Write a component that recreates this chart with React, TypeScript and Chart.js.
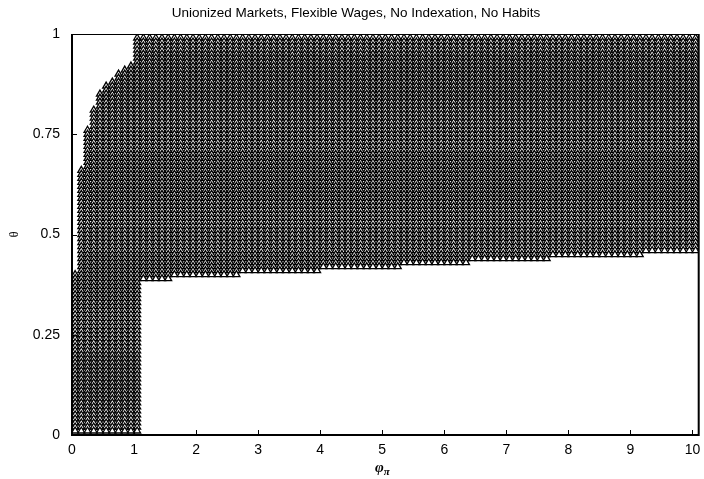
import React, { useEffect, useRef } from "react";
import { Chart, registerables } from "chart.js";

Chart.register(...registerables);

const TITLE = "Unionized Markets, Flexible Wages, No Indexation, No Habits";
const X_LABEL_MAIN = "φ";
const X_LABEL_SUB = "π";
const Y_LABEL = "θ";

const X_TICKS = [0, 1, 2, 3, 4, 5, 6, 7, 8, 9, 10];
const Y_TICKS = [0, 0.25, 0.5, 0.75, 1];

// Grid of policy coefficients (phi_pi) that were checked
const PHI_PI = [
  0.05, 0.15, 0.25, 0.35, 0.45, 0.55, 0.65, 0.75, 0.85, 0.95,
  1.05, 1.15, 1.25, 1.35, 1.45, 1.55, 1.65, 1.75, 1.85, 1.95,
  2.05, 2.15, 2.25, 2.35, 2.45, 2.55, 2.65, 2.75, 2.85, 2.95,
  3.05, 3.15, 3.25, 3.35, 3.45, 3.55, 3.65, 3.75, 3.85, 3.95,
  4.05, 4.15, 4.25, 4.35, 4.45, 4.55, 4.65, 4.75, 4.85, 4.95,
  5.05, 5.15, 5.25, 5.35, 5.45, 5.55, 5.65, 5.75, 5.85, 5.95,
  6.05, 6.15, 6.25, 6.35, 6.45, 6.55, 6.65, 6.75, 6.85, 6.95,
  7.05, 7.15, 7.25, 7.35, 7.45, 7.55, 7.65, 7.75, 7.85, 7.95,
  8.05, 8.15, 8.25, 8.35, 8.45, 8.55, 8.65, 8.75, 8.85, 8.95,
  9.05, 9.15, 9.25, 9.35, 9.45, 9.55, 9.65, 9.75, 9.85, 9.95,
  10.05,
];

// Lowest determinate theta in each phi_pi column
const THETA_MIN = [
  0.01, 0.01, 0.01, 0.01, 0.01, 0.01, 0.01, 0.01, 0.01, 0.01,
  0.01, 0.39, 0.39, 0.39, 0.39, 0.39, 0.40, 0.40, 0.40, 0.40,
  0.40, 0.40, 0.40, 0.40, 0.40, 0.40, 0.40, 0.41, 0.41, 0.41,
  0.41, 0.41, 0.41, 0.41, 0.41, 0.41, 0.41, 0.41, 0.41, 0.41,
  0.42, 0.42, 0.42, 0.42, 0.42, 0.42, 0.42, 0.42, 0.42, 0.42,
  0.42, 0.42, 0.42, 0.43, 0.43, 0.43, 0.43, 0.43, 0.43, 0.43,
  0.43, 0.43, 0.43, 0.43, 0.44, 0.44, 0.44, 0.44, 0.44, 0.44,
  0.44, 0.44, 0.44, 0.44, 0.44, 0.44, 0.44, 0.45, 0.45, 0.45,
  0.45, 0.45, 0.45, 0.45, 0.45, 0.45, 0.45, 0.45, 0.45, 0.45,
  0.45, 0.45, 0.46, 0.46, 0.46, 0.46, 0.46, 0.46, 0.46, 0.46,
  0.46,
];

// Highest determinate theta in each phi_pi column
const THETA_MAX = [
  0.40, 0.66, 0.76, 0.81, 0.85, 0.87, 0.88, 0.90, 0.91, 0.92,
  0.99, 0.99, 0.99, 0.99, 0.99, 0.99, 0.99, 0.99, 0.99, 0.99,
  0.99, 0.99, 0.99, 0.99, 0.99, 0.99, 0.99, 0.99, 0.99, 0.99,
  0.99, 0.99, 0.99, 0.99, 0.99, 0.99, 0.99, 0.99, 0.99, 0.99,
  0.99, 0.99, 0.99, 0.99, 0.99, 0.99, 0.99, 0.99, 0.99, 0.99,
  0.99, 0.99, 0.99, 0.99, 0.99, 0.99, 0.99, 0.99, 0.99, 0.99,
  0.99, 0.99, 0.99, 0.99, 0.99, 0.99, 0.99, 0.99, 0.99, 0.99,
  0.99, 0.99, 0.99, 0.99, 0.99, 0.99, 0.99, 0.99, 0.99, 0.99,
  0.99, 0.99, 0.99, 0.99, 0.99, 0.99, 0.99, 0.99, 0.99, 0.99,
  0.99, 0.99, 0.99, 0.99, 0.99, 0.99, 0.99, 0.99, 0.99, 0.99,
  0.99,
];

const THETA_STEP = 0.01;

function buildPoints() {
  const pts: { x: number; y: number }[] = [];
  PHI_PI.forEach((x, k) => {
    const lo = Math.round(THETA_MIN[k] / THETA_STEP);
    const hi = Math.round(THETA_MAX[k] / THETA_STEP);
    for (let j = hi; j >= lo; j--) {
      pts.push({ x, y: Math.round(j * THETA_STEP * 100) / 100 });
    }
  });
  return pts;
}

const FONT = "'Liberation Sans', Arial, sans-serif";

const framePlugin = {
  id: "frame",
  afterDatasetsDraw(chart: any) {
    const { ctx, chartArea: a, scales } = chart;
    ctx.save();
    ctx.strokeStyle = "#000";
    ctx.lineWidth = 1;
    ctx.beginPath();
    X_TICKS.forEach((v) => {
      const px = Math.round(scales.x.getPixelForValue(v)) + 0.5;
      ctx.moveTo(px, a.bottom);
      ctx.lineTo(px, a.bottom - 5);
    });
    Y_TICKS.forEach((v) => {
      const py = Math.round(scales.y.getPixelForValue(v)) + 0.5;
      ctx.moveTo(a.left, py);
      ctx.lineTo(a.left + 5, py);
    });
    ctx.stroke();

    // box around the plot area
    ctx.lineWidth = 2;
    ctx.beginPath();
    ctx.moveTo(a.left, a.top);
    ctx.lineTo(a.left, a.bottom);
    ctx.lineTo(a.right, a.bottom);
    ctx.lineTo(a.right, a.top);
    ctx.stroke();
    ctx.lineWidth = 1;
    ctx.beginPath();
    ctx.moveTo(a.left, a.top + 0.5);
    ctx.lineTo(a.right, a.top + 0.5);
    ctx.stroke();

    ctx.fillStyle = "#000";

    // chart title
    ctx.font = `13.5px ${FONT}`;
    ctx.textAlign = "center";
    ctx.textBaseline = "middle";
    ctx.fillText(TITLE, 356, 13);

    // x-axis title: phi with subscript pi
    ctx.textAlign = "left";
    ctx.textBaseline = "alphabetic";
    const mainFont = "italic bold 15px 'Liberation Serif', 'DejaVu Serif', serif";
    const subFont = "italic bold 11px 'Liberation Serif', 'DejaVu Serif', serif";
    ctx.font = mainFont;
    const w1 = ctx.measureText(X_LABEL_MAIN).width;
    ctx.font = subFont;
    const w2 = ctx.measureText(X_LABEL_SUB).width;
    const cx = (a.left + a.right) / 2 - 3;
    const x0 = cx - (w1 + w2) / 2;
    ctx.font = mainFont;
    ctx.fillText(X_LABEL_MAIN, x0, 472);
    ctx.font = subFont;
    ctx.fillText(X_LABEL_SUB, x0 + w1, 475);
    ctx.restore();
  },
};

export default function App() {
  const canvasRef = useRef<HTMLCanvasElement | null>(null);

  useEffect(() => {
    const canvas = canvasRef.current;
    if (!canvas) return;
    const chart = new Chart(canvas, {
      type: "scatter",
      data: {
        datasets: [
          {
            data: buildPoints(),
            pointStyle: "triangle",
            pointRadius: 4,
            pointHoverRadius: 4,
            pointBorderWidth: 1.3,
            pointBorderColor: "#000",
            pointBackgroundColor: "#fff",
          },
        ],
      },
      options: {
        animation: false,
        responsive: false,
        events: [],
        layout: { padding: { left: 0, right: 4, top: 34, bottom: 0 } },
        plugins: {
          legend: { display: false },
          tooltip: { enabled: false },
          title: { display: false },
        },
        scales: {
          x: {
            type: "linear",
            min: 0,
            max: 10.1,
            afterBuildTicks: (s: any) => {
              s.ticks = X_TICKS.map((v) => ({ value: v }));
            },
            afterFit: (s: any) => {
              s.height = 44;
              s.paddingLeft = 0;
              s.paddingRight = 0;
            },
            grid: { display: false, drawTicks: false },
            border: { display: false },
            ticks: {
              padding: 7,
              color: "#000",
              maxRotation: 0,
              autoSkip: false,
              font: { family: FONT, size: 14 },
              callback: (v: any) => String(v),
            },
          },
          y: {
            type: "linear",
            min: 0,
            max: 1,
            afterBuildTicks: (s: any) => {
              s.ticks = Y_TICKS.map((v) => ({ value: v }));
            },
            afterFit: (s: any) => {
              s.width = 72;
              s.paddingTop = 0;
              s.paddingBottom = 0;
            },
            grid: { display: false, drawTicks: false },
            border: { display: false },
            ticks: {
              padding: 12,
              color: "#000",
              autoSkip: false,
              font: { family: FONT, size: 14 },
              callback: (v: any) => String(v),
            },
            title: {
              display: true,
              text: Y_LABEL,
              color: "#000",
              font: { family: "'Liberation Serif', serif", size: 12 },
              padding: { top: 8, bottom: 0 },
            },
          },
        },
      },
      plugins: [framePlugin],
    });
    return () => chart.destroy();
  }, []);

  return (
    <div style={{ position: "absolute", left: 0, top: 0, width: 704, height: 479 }}>
      <canvas ref={canvasRef} width={704} height={479} style={{ display: "block" }} />
    </div>
  );
}
